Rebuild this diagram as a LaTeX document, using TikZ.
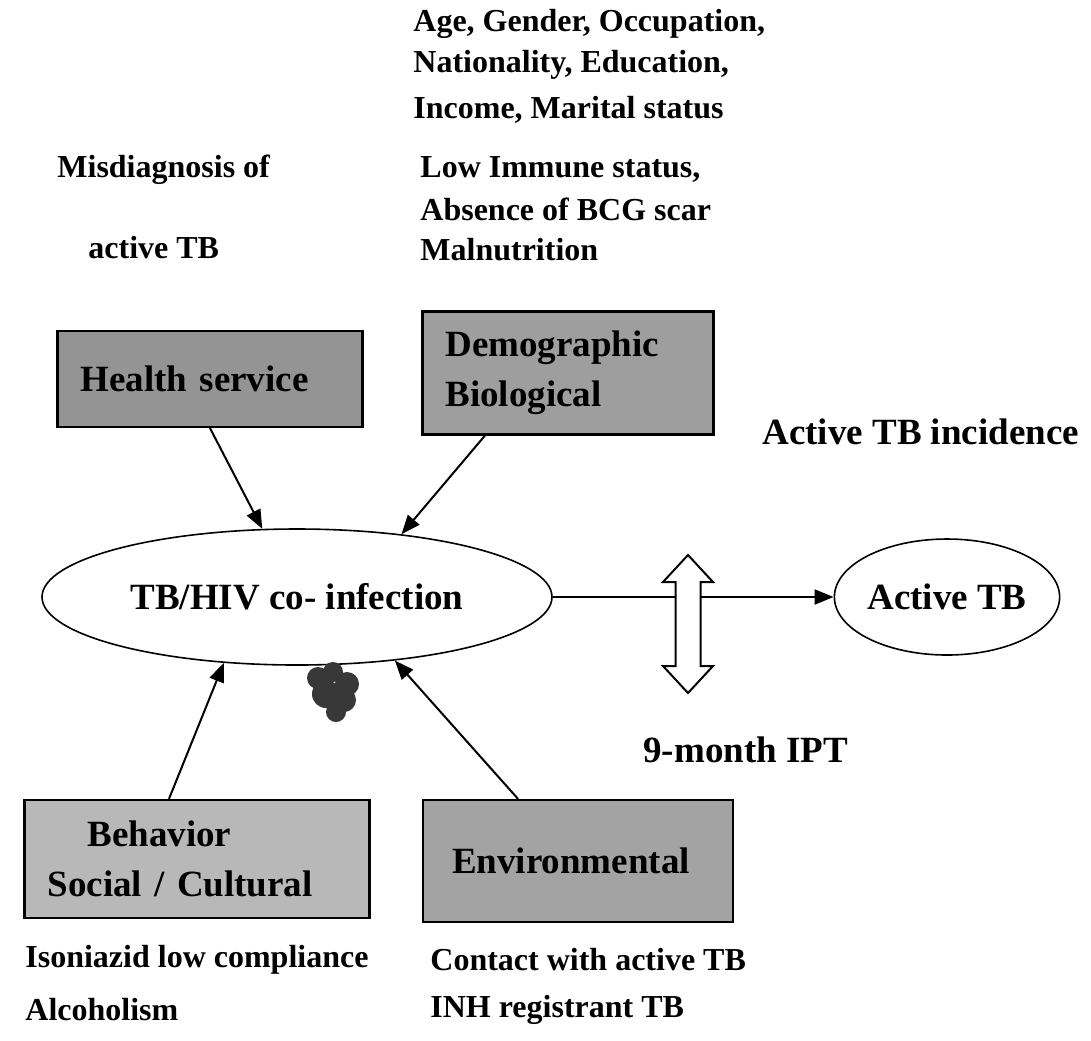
\documentclass[tikz,border=0pt]{standalone}
\usepackage{fontspec}
\setmainfont{Liberation Serif}
\usetikzlibrary{shapes.geometric,arrows.meta}

\begin{document}
\begin{tikzpicture}[x=0.5pt,y=-0.5pt,
  factor/.style={draw,line width=1.1pt,align=left,inner xsep=11.5pt,inner ysep=0pt,
    font=\bfseries\fontsize{18.5}{25}\selectfont},
  bubble/.style={draw,ellipse,line width=0.8pt,inner sep=0pt,
    font=\bfseries\fontsize{18.5}{22}\selectfont},
  note/.style={anchor=west,inner sep=0pt,font=\bfseries\fontsize{16}{20}\selectfont},
  bignote/.style={anchor=west,inner sep=0pt,font=\bfseries\fontsize{18.5}{22}\selectfont},
  arr/.style={line width=1pt,-{Triangle[length=9.5pt,width=7.5pt]}}]
  \useasboundingbox (0,0) rectangle (1091,1040);

  \node[note] (age) at (413,24) {Age, Gender, Occupation,};
  \node[note] (nation) at (413,65) {Nationality, Education,};
  \node[note] (income) at (413,110) {Income, Marital status};
  \node[note] (immune) at (420,169) {Low Immune status,};
  \node[note] (bcg) at (420,209) {Absence of BCG scar};
  \node[note] (nutrition) at (420,250) {Malnutrition};
  \node[note] (misdiag) at (57,170) {Misdiagnosis of};
  \node[note] (activetb) at (88,248) {active TB};

  \node[factor,fill=black!42,text width=129.5pt,minimum height=48pt] (health) at (210,379) {Health service};
  \node[factor,fill=black!38,text width=122.5pt,minimum height=61.5pt] (demo) at (568,373) {Demographic\\Biological};
  \node[factor,fill=black!28,text width=149.5pt,minimum height=59pt] (behav) at (197,859) {\hspace*{20pt}Behavior\\Social / Cultural};
  \node[factor,fill=black!36,inner xsep=14.5pt,text width=126pt,minimum height=61pt] (env) at (578,861) {Environmental};

  \node[bignote] (incidence) at (762,432) {Active TB incidence};
  \node[bubble,minimum width=255pt,minimum height=68pt] (infection) at (297,597) {TB/HIV co- infection};
  \node[bubble,minimum width=105pt,minimum height=58pt] (active) at (947,597) {Active TB};
  \node[bignote] (ipt) at (643,750) {9-month IPT};

  \draw[arr] (health.south) to (infection.117);
  \draw[arr] (demo.217) to (infection.31);
  \draw[arr] (behav.115) to (infection.222);
  \draw[arr] (env.134) to (infection.327);
  \draw[arr] (infection.east) to (active.west);

  \coordinate (block) at (688,624);
  \draw[line width=1pt,fill=white] ([shift={(0,-69)}]block) -- ++(25,27) -- ++(-12.5,0) -- ++(0,84)
    -- ++(12.5,0) -- ++(-25,27) -- ++(-25,-27) -- ++(12.5,0) -- ++(0,-84) -- ++(-12.5,0) -- cycle;

  \fill[black!78] (318,678) circle (5.5pt) (333,672) circle (5pt) (347,684) circle (6pt)
    (326,694) circle (7pt) (344,700) circle (6pt) (336,712) circle (5pt);

  \node[note] (isoniazid) at (25,960) {Isoniazid low compliance};
  \node[note] (alcohol) at (25,1010) {Alcoholism};
  \node[note] (contact) at (430,960) {Contact with active TB};
  \node[note] (inh) at (430,1010) {INH registrant TB};
\end{tikzpicture}
\end{document}
